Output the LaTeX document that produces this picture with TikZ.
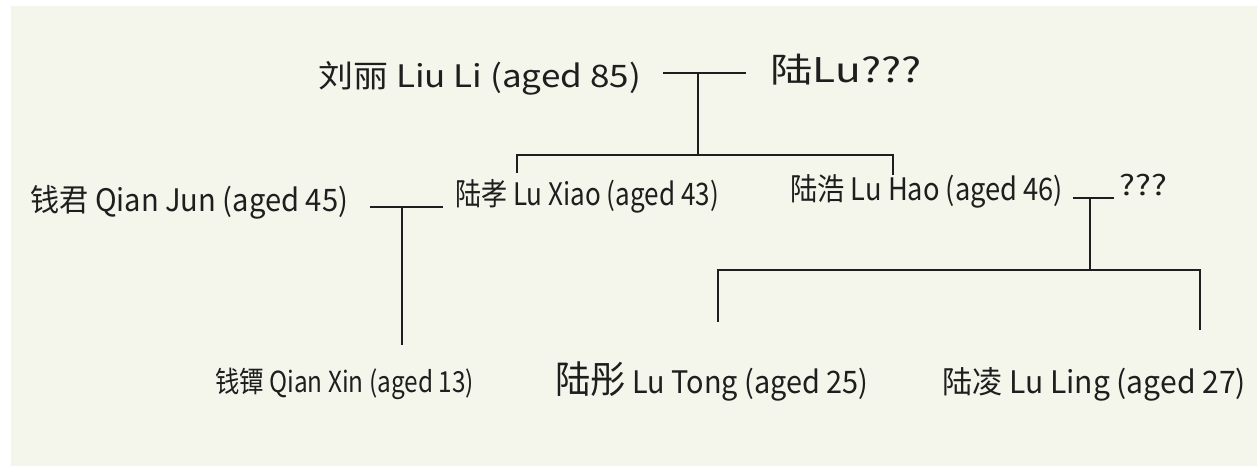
\documentclass[tikz,border=0pt]{standalone}
\usepackage{fontspec}
\usepackage{graphicx}
\setmainfont{Noto Sans CJK SC}
\definecolor{paper}{HTML}{F4F5EB}
\definecolor{ink}{HTML}{1E1E1E}
\newcommand{\hstretch}[2]{\scalebox{#1}[1]{#2}}
\begin{document}
\begin{tikzpicture}[x=1pt,y=-1pt,
  person/.style={anchor=west, inner sep=0pt, text=ink, font=\fontsize{31}{33}\selectfont},
  link/.style={draw=ink, line width=1.8pt}]
\fill[white] (0,0) rectangle (1257,466);
\fill[paper] (11,6) rectangle (1257,466);
\useasboundingbox (0,0) rectangle (1257,466);

% people
\node[person] (liuli)   at (318,78)  {\hstretch{1.13}{刘丽 Liu Li (aged 85)}};
\node[person, font=\fontsize{34}{36}\selectfont] (lu) at (770,70) {\hstretch{1.25}{陆Lu???}};
\node[person] (qianjun) at (30,202)  {\hstretch{0.94}{钱君 Qian Jun (aged 45)}};
\node[person] (luxiao)  at (455,196) {\hstretch{0.84}{陆孝 Lu Xiao (aged 43)}};
\node[person] (luhao)   at (790,191) {\hstretch{0.88}{陆浩 Lu Hao (aged 46)}};
\node[person, font=\fontsize{28}{30}\selectfont] (q3) at (1119,185) {\hstretch{1.2}{???}};
\node[person, font=\fontsize{29}{31}\selectfont] (qianxin) at (215,384) {\hstretch{0.84}{钱镡 Qian Xin (aged 13)}};
\node[person] (lutong)  at (555,381) {\hstretch{0.93}{{\fontsize{38}{40}\selectfont 陆彤} Lu Tong (aged 25)}};
\node[person] (luling)  at (942,384) {\hstretch{0.97}{陆凌 Lu Ling (aged 27)}};

% junctions
\coordinate (m1) at (698,73);
\coordinate (b1) at (698,155);
\coordinate (bl) at (517,155);
\coordinate (br) at (893,155);
\coordinate (xiaotop) at (517,173);
\coordinate (haotop) at (893,175);
\coordinate (m2) at (402,207);
\coordinate (xintop) at (402,345);
\coordinate (m3) at (1090,198);
\coordinate (b3) at (1090,270);
\coordinate (b3l) at (718,270);
\coordinate (b3r) at (1200,270);
\coordinate (tongtop) at (718,322);
\coordinate (lingtop) at (1200,330);

% marriages
\draw[link, shorten <=22pt, shorten >=24pt] (liuli.east |- m1) -- (lu.west |- m1);
\draw[link, shorten <=22pt, shorten >=12pt] (qianjun.east |- m2) -- (luxiao.west |- m2);
\draw[link, shorten <=10pt, shorten >=5pt] (luhao.east |- m3) -- (q3.west |- m3);

% descent
\draw[link] (m1) -- (b1);
\draw[link] (xiaotop) -- (bl) -- (br) -- (haotop);
\draw[link] (m2) -- (xintop);
\draw[link] (m3) -- (b3);
\draw[link] (tongtop) -- (b3l) -- (b3r) -- (lingtop);
\end{tikzpicture}
\end{document}
